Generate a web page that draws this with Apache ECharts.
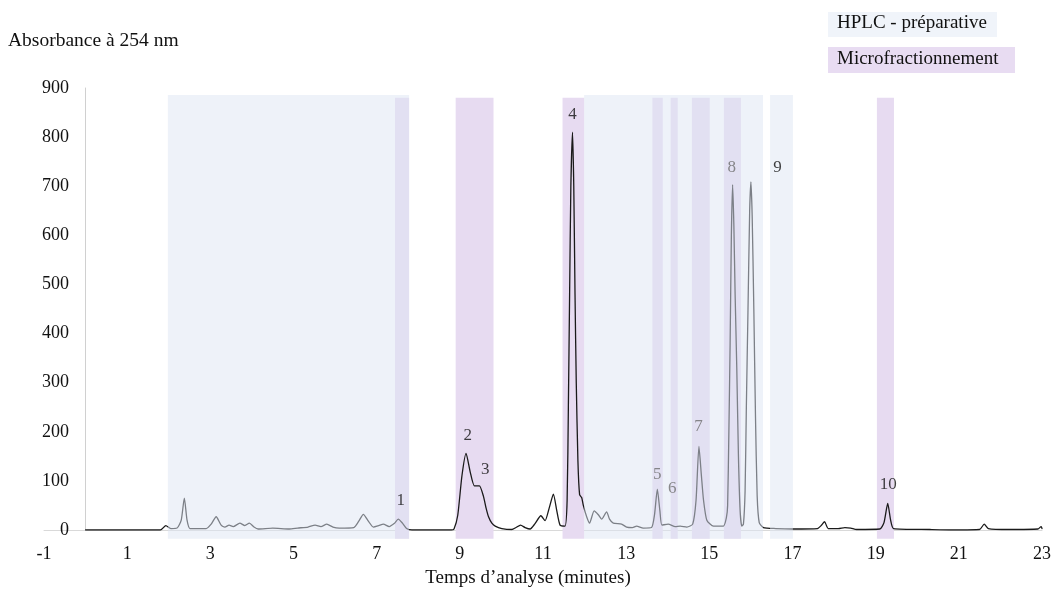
<!DOCTYPE html>
<html>
<head>
<meta charset="utf-8">
<script src="https://cdn.jsdelivr.net/npm/echarts@6/dist/echarts.min.js"></script>
<style>
  html, body { margin: 0; padding: 0; background: #ffffff; }
  #chart { width: 1056px; height: 591px; }
</style>
</head>
<body>
<div id="chart"></div>
<script>
// ---- Data ----
const xTicks = [-1, 1, 3, 5, 7, 9, 11, 13, 15, 17, 19, 21, 23];
const yTicks = [0, 100, 200, 300, 400, 500, 600, 700, 800, 900];

// Chromatogram trace: [time (min), absorbance]
const trace = [
  [0, 0], [1.8, 0], [1.93, 9], [2.05, 3], [2.2, 4], [2.3, 20], [2.375, 65], [2.44, 20], [2.51, 3],
  [2.9, 3], [3.02, 12], [3.14, 27], [3.26, 10], [3.35, 6], [3.45, 10], [3.55, 7], [3.71, 14],
  [3.83, 9], [3.94, 14], [4.05, 6], [4.15, 2], [4.5, 4], [4.9, 2], [5.1, 4], [5.35, 6], [5.52, 10],
  [5.66, 7], [5.80, 12], [5.95, 6], [6.1, 4], [6.45, 5], [6.57, 18], [6.68, 32], [6.8, 18], [6.92, 6],
  [7.05, 9], [7.16, 12], [7.3, 7], [7.42, 13], [7.52, 22], [7.62, 14], [7.72, 3], [7.85, 0],
  [8.8, 0], [8.86, 2], [8.95, 30], [9.05, 110], [9.15, 156], [9.25, 118], [9.35, 90], [9.47, 90],
  [9.57, 68], [9.63, 45], [9.69, 27], [9.77, 14], [9.85, 8], [10.01, 3], [10.25, 1], [10.35, 5],
  [10.46, 10], [10.57, 5], [10.69, 2], [10.8, 12], [10.95, 29], [11.05, 19], [11.15, 45], [11.25, 73],
  [11.33, 40], [11.41, 10], [11.53, 8], [11.58, 60], [11.61, 250], [11.64, 480], [11.67, 700],
  [11.71, 810], [11.74, 700], [11.77, 480], [11.80, 300], [11.84, 140], [11.88, 72], [11.93, 66],
  [11.97, 50], [12.05, 27], [12.12, 14], [12.23, 39], [12.33, 31], [12.41, 22], [12.53, 37],
  [12.6, 22], [12.69, 14], [12.89, 12], [13.01, 6], [13.15, 5], [13.25, 8], [13.41, 4], [13.61, 5],
  [13.68, 30], [13.75, 83], [13.81, 40], [13.86, 10], [14.01, 12], [14.18, 7], [14.30, 8],
  [14.46, 6], [14.6, 12], [14.68, 60], [14.75, 170], [14.81, 110], [14.86, 61], [14.94, 20],
  [15.10, 8], [15.34, 8], [15.41, 25], [15.44, 50], [15.47, 200], [15.50, 380], [15.53, 600],
  [15.56, 703], [15.59, 620], [15.62, 480], [15.66, 330], [15.70, 150], [15.74, 40], [15.78, 8],
  [15.82, 12], [15.86, 80], [15.89, 250], [15.93, 450], [15.97, 650], [16.0, 709], [16.03, 640],
  [16.07, 450], [16.11, 230], [16.15, 70], [16.2, 15], [16.3, 5], [16.6, 3], [17.0, 2], [17.6, 3],
  [17.7, 10], [17.77, 17], [17.86, 3], [18.1, 3], [18.26, 5], [18.4, 4], [18.54, 1], [19.1, 2],
  [19.2, 15], [19.29, 54], [19.36, 20], [19.43, 3], [20.3, 1], [20.87, 0], [21.5, 1], [21.61, 12],
  [21.71, 3], [22.2, 1], [22.9, 2], [22.98, 7], [23.0, 3]
];

// Collection windows: [start, end] in minutes
const hplcBands = [[1.98, 7.78], [11.99, 16.29], [16.46, 17.01]];
const microBands = [[7.44, 7.78], [8.90, 9.81], [11.47, 11.99], [13.63, 13.88], [14.07, 14.24],
                    [14.58, 15.01], [15.35, 15.76], [19.03, 19.44]];
const hplcTop = 886;
const microTop = 880;
const bandBottom = -18;

// Peak labels: [time, absorbance, text]
const peakLabels = [
  [7.58, 59, '1'], [9.19, 193, '2'], [9.61, 124, '3'], [11.71, 845, '4'], [13.75, 112, '5'],
  [14.11, 85, '6'], [14.74, 210, '7'], [15.54, 739, '8'], [16.64, 739, '9'], [19.30, 92, '10']
];
const mutedLabels = ['5', '6', '7', '8'];

const legendItems = ['HPLC - préparative', 'Microfractionnement'];
const yTitle = 'Absorbance à 254 nm';
const xTitle = 'Temps d’analyse (minutes)';

// ---- Chart ----
const FONT = '"Liberation Serif", "Times New Roman", serif';
const HPLC_COLOR = 'rgb(222,230,243)';
const MICRO_COLOR = 'rgb(231,219,241)';

function bandRenderer(top, color, opacity) {
  return function (params, api) {
    const p0 = api.coord([api.value(0), top]);
    const p1 = api.coord([api.value(1), bandBottom]);
    return {
      type: 'rect',
      shape: { x: p0[0], y: p0[1], width: p1[0] - p0[0], height: p1[1] - p0[1] },
      style: { fill: color, opacity: opacity }
    };
  };
}

const chart = echarts.init(document.getElementById('chart'), null, { renderer: 'canvas' });
chart.setOption({
  animation: false,
  backgroundColor: '#ffffff',
  textStyle: { fontFamily: FONT },
  grid: { left: 44, right: 14, top: 88, bottom: 61, containLabel: false },
  xAxis: {
    type: 'value', min: xTicks[0], max: xTicks[xTicks.length - 1], interval: 2,
    axisLine: { show: true, onZero: false, lineStyle: { color: '#d9d9d9', width: 1 } },
    axisTick: { show: false },
    splitLine: { show: false },
    axisLabel: { customValues: xTicks, fontFamily: FONT, fontSize: 18, color: '#111', margin: 15 }
  },
  yAxis: {
    type: 'value', min: yTicks[0], max: yTicks[yTicks.length - 1], interval: 100,
    axisLine: { show: true, onZero: true, lineStyle: { color: '#d0d0d0', width: 1 } },
    axisTick: { show: false },
    splitLine: { show: false },
    axisLabel: { fontFamily: FONT, fontSize: 18, color: '#111', margin: -25 }
  },
  graphic: [
    { type: 'text', left: 8, top: 31, style: { text: yTitle, font: '19.5px ' + FONT, fill: '#111' } },
    { type: 'text', left: 'center', top: 569, style: { text: xTitle, font: '19px ' + FONT, fill: '#111' }, x: -33 },
    { type: 'rect', left: 828, top: 12, shape: { width: 169, height: 25 }, style: { fill: 'rgb(240,244,250)' } },
    { type: 'text', left: 837, top: 14, style: { text: legendItems[0], font: '19px ' + FONT, fill: '#111' } },
    { type: 'rect', left: 828, top: 47, shape: { width: 187, height: 26 }, style: { fill: 'rgb(232,220,242)' } },
    { type: 'text', left: 837, top: 50, style: { text: legendItems[1], font: '19px ' + FONT, fill: '#111' } }
  ],
  series: [
    {
      type: 'custom', name: legendItems[1], data: microBands, encode: { x: [0, 1] },
      renderItem: bandRenderer(microTop, MICRO_COLOR, 1), z: 1, clip: false, silent: true
    },
    {
      type: 'line', name: 'trace', data: trace, showSymbol: false, symbol: 'none',
      smooth: 0.2, z: 2,
      lineStyle: { color: '#1a1a1a', width: 1.3, join: 'round', cap: 'round' }
    },
    {
      type: 'custom', name: legendItems[0], data: hplcBands, encode: { x: [0, 1] },
      renderItem: bandRenderer(hplcTop, HPLC_COLOR, 0.5), z: 3, clip: false, silent: true
    },
    {
      type: 'scatter', name: 'labels', symbolSize: 0, z: 4,
      data: peakLabels.map(d => ({
        value: d,
        label: { color: mutedLabels.includes(d[2]) ? '#6e6e6e' : '#111' }
      })),
      label: {
        show: true, position: 'inside', fontFamily: FONT, fontSize: 17,
        formatter: p => p.value[2]
      },
      itemStyle: { color: 'transparent' }
    }
  ]
});
</script>
</body>
</html>
